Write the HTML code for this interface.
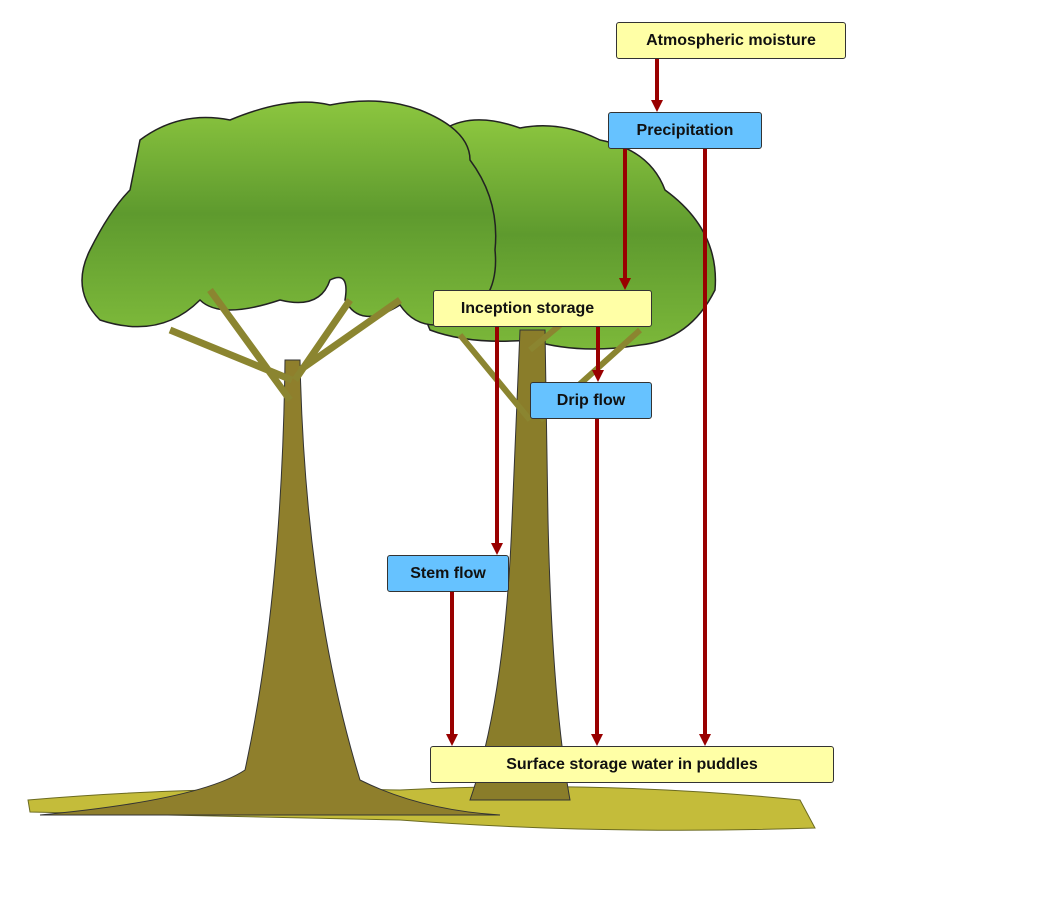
<!DOCTYPE html>
<html><head><style>
body{margin:0;width:1047px;height:905px;background:#fff;position:relative;overflow:hidden;font-family:"Liberation Sans",sans-serif}
.b{position:absolute;border:1px solid #333;border-radius:3px;box-sizing:border-box;display:flex;align-items:center;justify-content:center;font-weight:bold;font-size:16px;color:#111}
.y{background:#ffffa6}.u{background:#66c2ff}
svg{position:absolute;left:0;top:0}
</style></head><body>
<svg width="1047" height="905">
<defs><linearGradient id="g" x1="0" y1="0" x2="0" y2="1"><stop offset="0" stop-color="#8cc63f"/><stop offset="0.5" stop-color="#5e9a2e"/><stop offset="1" stop-color="#7cb83a"/></linearGradient></defs>
<!-- ground -->
<path d="M28 800 Q200 785 400 790 Q600 780 800 800 L815 828 Q600 835 400 820 Q200 815 30 812 Z" fill="#c4bc3a" stroke="#6b6a20" stroke-width="1"/>
<!-- right tree -->
<path d="M440 132 Q470 110 520 128 Q560 120 600 140 Q650 150 665 190 Q720 230 715 290 Q690 340 640 345 Q580 355 530 340 Q470 345 430 330 Q400 260 440 200 Z" fill="url(#g)" stroke="#222" stroke-width="1.5"/>
<path d="M520 330 L545 330 L548 520 Q552 700 570 800 L470 800 Q505 700 512 520 Z" fill="#8a7d2a" stroke="#333" stroke-width="1"/>
<path d="M530 420 L460 335 M540 420 L640 330 M530 350 L590 300" stroke="#8b8530" stroke-width="6" fill="none"/>
<!-- left tree -->
<path d="M140 140 Q180 110 230 120 Q290 95 330 105 Q380 95 420 110 Q470 130 470 160 Q500 200 495 250 Q500 300 460 320 Q420 335 400 305 Q360 330 345 300 Q350 270 330 280 Q320 310 280 300 Q220 320 200 300 Q160 340 100 320 Q70 290 90 250 Q110 210 130 190 Z" fill="url(#g)" stroke="#222" stroke-width="1.5"/>
<path d="M285 360 L300 360 Q305 600 360 780 Q420 810 500 815 L40 815 Q200 800 245 770 Q282 600 285 360 Z" fill="#8f7f2c" stroke="#333" stroke-width="1"/>
<path d="M290 400 L210 290 M292 380 L170 330 M295 380 L350 300 M300 370 L400 300" stroke="#8b8530" stroke-width="7" fill="none"/>
<!-- arrows -->
<g stroke="#990000" stroke-width="4" fill="none">
<line x1="657" y1="59" x2="657" y2="102"/><line x1="625" y1="149" x2="625" y2="280"/><line x1="705" y1="149" x2="705" y2="736"/>
<line x1="497" y1="327" x2="497" y2="545"/><line x1="598" y1="327" x2="598" y2="372"/><line x1="597" y1="419" x2="597" y2="736"/><line x1="452" y1="592" x2="452" y2="736"/>
</g>
<g fill="#990000">
<path d="M651 100 L663 100 L657 112Z"/><path d="M619 278 L631 278 L625 290Z"/><path d="M699 734 L711 734 L705 746Z"/>
<path d="M491 543 L503 543 L497 555Z"/><path d="M592 370 L604 370 L598 382Z"/><path d="M591 734 L603 734 L597 746Z"/><path d="M446 734 L458 734 L452 746Z"/>
</g>
</svg>
<div class="b y" style="left:616px;top:22px;width:230px;height:37px">Atmospheric moisture</div>
<div class="b u" style="left:608px;top:112px;width:154px;height:37px">Precipitation</div>
<div class="b y" style="left:433px;top:290px;width:219px;height:37px;padding-right:30px">Inception storage</div>
<div class="b u" style="left:530px;top:382px;width:122px;height:37px">Drip flow</div>
<div class="b u" style="left:387px;top:555px;width:122px;height:37px">Stem flow</div>
<div class="b y" style="left:430px;top:746px;width:404px;height:37px">Surface storage water in puddles</div>
</body></html>
